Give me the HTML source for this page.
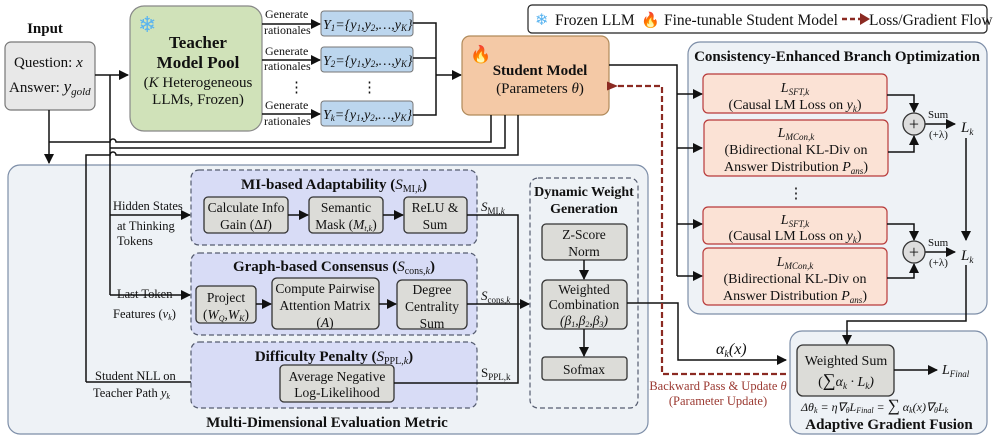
<!DOCTYPE html>
<html><head><meta charset="utf-8"><style>
body{margin:0;background:#fff}
svg{display:block}
text{font-family:"Liberation Serif",serif;fill:#111}
.b{font-weight:bold}
.i{font-style:italic}
text.red,.red tspan{fill:#9b3a32}
text.snow{fill:#5ab4f0}
text.fire{fill:#f06020}
</style></head><body>
<svg width="996" height="439" viewBox="0 0 996 439" xmlns="http://www.w3.org/2000/svg">
<defs>
<marker id="a" markerWidth="10" markerHeight="10" refX="9" refY="5" orient="auto" markerUnits="userSpaceOnUse"><path d="M0,0 L10,5 L0,10 z" fill="#111"/></marker>
<marker id="r" markerWidth="11" markerHeight="9" refX="2" refY="4.5" orient="auto" markerUnits="userSpaceOnUse"><path d="M0,4.5 L11,0 L11,9 z" fill="#8b2a22"/></marker>
</defs>

<!-- legend -->
<rect x="528" y="5" width="459" height="28" rx="4" fill="#fff" stroke="#222" stroke-width="1.2"/>
<text x="535" y="25" font-size="16" class="snow">❄</text>
<text x="555" y="25" font-size="15.5">Frozen LLM</text>
<text x="641" y="25" font-size="15" class="fire">🔥</text>
<text x="664" y="25" font-size="15.5">Fine-tunable Student Model</text>
<line x1="842" y1="19" x2="862" y2="19" stroke="#8b2a22" stroke-width="2.5" stroke-dasharray="5,3"/>
<path d="M860,13 L870,19 L860,25z" fill="#8b2a22"/>
<text x="869" y="25" font-size="15.5">Loss/Gradient Flow</text>

<!-- big panels -->
<rect x="8" y="165" width="640" height="269" rx="12" fill="#eef2f6" stroke="#7d8ea8" stroke-width="1.2"/>
<rect x="688" y="42" width="299" height="272" rx="12" fill="#eef2f6" stroke="#7d8ea8" stroke-width="1.2"/>
<rect x="790" y="331" width="197" height="103" rx="12" fill="#eef2f6" stroke="#7d8ea8" stroke-width="1.2"/>

<!-- input -->
<text x="45" y="33" font-size="15" class="b" text-anchor="middle">Input</text>
<rect x="5" y="42" width="90" height="68" rx="6" fill="#e8e8e8" stroke="#777" stroke-width="1.2"/>
<text x="14" y="67" font-size="15">Question: <tspan class="i">x</tspan></text>
<text x="9" y="92" font-size="15">Answer: <tspan class="i" font-size="17">y</tspan><tspan class="i" font-size="11" dy="3">gold</tspan></text>

<!-- teacher -->
<rect x="130" y="6" width="132" height="125" rx="14" fill="#d0e2b9" stroke="#888" stroke-width="1.2"/>
<text x="138" y="32" font-size="22" class="snow">❄</text>
<text x="198" y="48" font-size="17" class="b" text-anchor="middle">Teacher</text>
<text x="198" y="68" font-size="17" class="b" text-anchor="middle">Model Pool</text>
<text x="198" y="87" font-size="15" text-anchor="middle">(<tspan class="i">K</tspan> Heterogeneous</text>
<text x="198" y="104" font-size="15" text-anchor="middle">LLMs, Frozen)</text>
<line x1="95" y1="75" x2="128" y2="75" stroke="#111" stroke-width="1.5" marker-end="url(#a)"/>

<!-- generate arrows -->
<g font-size="12">
<text x="265" y="18">Generate</text><text x="264" y="34">rationales</text>
<text x="265" y="55">Generate</text><text x="264" y="70">rationales</text>
<text x="265" y="109">Generate</text><text x="264" y="125">rationales</text>
</g>
<line x1="262" y1="24" x2="320" y2="24" stroke="#111" stroke-width="1.5" marker-end="url(#a)"/>
<line x1="262" y1="60" x2="320" y2="60" stroke="#111" stroke-width="1.5" marker-end="url(#a)"/>
<line x1="262" y1="114" x2="320" y2="114" stroke="#111" stroke-width="1.5" marker-end="url(#a)"/>
<text x="289" y="92" font-size="15">⋮</text>
<g fill="#bcd6ee" stroke="#777" stroke-width="1">
<rect x="321" y="11" width="92" height="25" rx="3"/>
<rect x="321" y="47" width="92" height="25" rx="3"/>
<rect x="321" y="101" width="92" height="25" rx="3"/>
</g>
<g font-size="14" class="i">
<text x="323" y="29">Y<tspan font-size="9" dy="2">1</tspan><tspan dy="-2">={y</tspan><tspan font-size="9" dy="2">1</tspan><tspan dy="-2">,y</tspan><tspan font-size="9" dy="2">2</tspan><tspan dy="-2">,…,y</tspan><tspan font-size="9" dy="2">K</tspan><tspan dy="-2">}</tspan></text>
<text x="323" y="65">Y<tspan font-size="9" dy="2">2</tspan><tspan dy="-2">={y</tspan><tspan font-size="9" dy="2">1</tspan><tspan dy="-2">,y</tspan><tspan font-size="9" dy="2">2</tspan><tspan dy="-2">,…,y</tspan><tspan font-size="9" dy="2">K</tspan><tspan dy="-2">}</tspan></text>
<text x="323" y="119">Y<tspan font-size="9" dy="2">k</tspan><tspan dy="-2">={y</tspan><tspan font-size="9" dy="2">1</tspan><tspan dy="-2">,y</tspan><tspan font-size="9" dy="2">2</tspan><tspan dy="-2">,…,y</tspan><tspan font-size="9" dy="2">K</tspan><tspan dy="-2">}</tspan></text>
</g>
<text x="362" y="92" font-size="15">⋮</text>
<path d="M413,23 H436 V115 H413 M413,58 H436" fill="none" stroke="#111" stroke-width="1.5"/>
<line x1="436" y1="75" x2="461" y2="75" stroke="#111" stroke-width="1.5" marker-end="url(#a)"/>

<!-- student -->
<rect x="462" y="36" width="147" height="79" rx="8" fill="#f4c9a6" stroke="#b08a5a" stroke-width="1.2"/>
<text x="470" y="60" font-size="17" class="fire">🔥</text>
<text x="540" y="75" font-size="15" class="b" text-anchor="middle">Student Model</text>
<text x="540" y="93" font-size="15" text-anchor="middle">(Parameters <tspan class="i">θ</tspan>)</text>

<!-- lines from student to bottom -->
<g fill="none" stroke="#111" stroke-width="1.5">
<path d="M491,115 V142 H116 a3,3 0 0 0 -6,0 H49"/>
<path d="M505,115 V148 H110"/>
<path d="M518,115 V155 H116 a3,3 0 0 0 -6,0 H86 V382"/>
<path d="M110,75 V295"/>
<line x1="49" y1="110" x2="49" y2="163" marker-end="url(#a)"/>
<line x1="110" y1="215" x2="190" y2="215" marker-end="url(#a)"/>
<line x1="110" y1="295" x2="190" y2="295" marker-end="url(#a)"/>
<path d="M86,382 H279" marker-end="url(#a)"/>
</g>

<!-- left labels -->
<g font-size="12.5">
<text x="113" y="210">Hidden States</text>
<text x="117" y="230">at Thinking</text>
<text x="117" y="245">Tokens</text>
<text x="117" y="298">Last Token</text>
<text x="113" y="318">Features (<tspan class="i">v</tspan><tspan font-size="8" dy="2" class="i">k</tspan><tspan dy="-2">)</tspan></text>
<text x="95" y="380">Student NLL on</text>
<text x="93" y="397">Teacher Path <tspan class="i">y</tspan><tspan font-size="8" dy="2" class="i">k</tspan></text>
</g>

<!-- dashed groups -->
<g fill="#d8dcf6" stroke="#555c70" stroke-width="1.2" stroke-dasharray="5,3">
<rect x="191" y="170" width="286" height="75" rx="8"/>
<rect x="191" y="253" width="286" height="82" rx="8"/>
<rect x="191" y="342" width="286" height="66" rx="8"/>
<rect x="530" y="178" width="108" height="230" rx="8" fill="#eef2f6"/>
</g>
<text x="334" y="189" font-size="15" class="b" text-anchor="middle">MI-based Adaptability (<tspan class="i" font-weight="normal">S</tspan><tspan font-size="10" dy="3" font-weight="normal">MI,<tspan class="i">k</tspan></tspan><tspan dy="-3">)</tspan></text>
<text x="334" y="271" font-size="15" class="b" text-anchor="middle">Graph-based Consensus (<tspan class="i" font-weight="normal">S</tspan><tspan font-size="10" dy="3" font-weight="normal">cons,<tspan class="i">k</tspan></tspan><tspan dy="-3">)</tspan></text>
<text x="334" y="361" font-size="15" class="b" text-anchor="middle">Difficulty Penalty (<tspan class="i" font-weight="normal">S</tspan><tspan font-size="10" dy="3" font-weight="normal">PPL,<tspan class="i">k</tspan></tspan><tspan dy="-3">)</tspan></text>
<text x="584" y="196" font-size="14" class="b" text-anchor="middle">Dynamic Weight</text>
<text x="584" y="213" font-size="14" class="b" text-anchor="middle">Generation</text>

<!-- gray boxes -->
<g fill="#dcdcd8" stroke="#333" stroke-width="1.3">
<rect x="204" y="197" width="84" height="36" rx="4"/>
<rect x="309" y="197" width="74" height="36" rx="4"/>
<rect x="404" y="197" width="63" height="36" rx="4"/>
<rect x="196" y="286" width="60" height="37" rx="4"/>
<rect x="272" y="278" width="107" height="51" rx="5"/>
<rect x="397" y="280" width="70" height="49" rx="5"/>
<rect x="280" y="365" width="114" height="37" rx="4"/>
<rect x="542" y="224" width="85" height="36" rx="4"/>
<rect x="542" y="280" width="85" height="49" rx="5"/>
<rect x="542" y="357" width="85" height="23" rx="3"/>
<rect x="797" y="345" width="97" height="51" rx="6"/>
</g>
<g font-size="13.5" text-anchor="middle">
<text x="246" y="212">Calculate Info</text><text x="246" y="229">Gain (Δ<tspan class="i">I</tspan>)</text>
<text x="346" y="212">Semantic</text><text x="346" y="229">Mask (<tspan class="i">M</tspan><tspan font-size="8" dy="2" class="i">t,k</tspan><tspan dy="-2">)</tspan></text>
<text x="435" y="212">ReLU &amp;</text><text x="435" y="229">Sum</text>
<text x="226" y="302">Project</text><text x="226" y="319">(<tspan class="i">W</tspan><tspan font-size="8" dy="2" class="i">Q</tspan><tspan dy="-2">,</tspan><tspan class="i">W</tspan><tspan font-size="8" dy="2" class="i">K</tspan><tspan dy="-2">)</tspan></text>
<text x="325" y="293">Compute Pairwise</text><text x="325" y="310">Attention Matrix</text><text x="325" y="327">(<tspan class="i">A</tspan>)</text>
<text x="432" y="294">Degree</text><text x="432" y="311">Centrality</text><text x="432" y="328">Sum</text>
<text x="337" y="381">Average Negative</text><text x="337" y="397">Log-Likelihood</text>
<text x="584" y="239">Z-Score</text><text x="584" y="256">Norm</text>
<text x="584" y="294">Weighted</text><text x="584" y="309">Combination</text><text x="584" y="325" class="i">(β<tspan font-size="8" dy="2">1</tspan><tspan dy="-2">,β</tspan><tspan font-size="8" dy="2">2</tspan><tspan dy="-2">,β</tspan><tspan font-size="8" dy="2">3</tspan><tspan dy="-2">)</tspan></text>
<text x="584" y="374">Sofmax</text>
</g>
<g fill="none" stroke="#111" stroke-width="1.5">
<line x1="288" y1="215" x2="308" y2="215" marker-end="url(#a)"/>
<line x1="383" y1="215" x2="403" y2="215" marker-end="url(#a)"/>
<line x1="256" y1="304" x2="271" y2="304" marker-end="url(#a)"/>
<line x1="379" y1="304" x2="396" y2="304" marker-end="url(#a)"/>
<line x1="584" y1="260" x2="584" y2="279" marker-end="url(#a)"/>
<line x1="584" y1="329" x2="584" y2="356" marker-end="url(#a)"/>
<path d="M467,215 H518 V383 H394"/>
<line x1="467" y1="304" x2="529" y2="304" marker-end="url(#a)"/>
<path d="M627,303 H678 V360 H786" marker-end="url(#a)"/>
</g>
<g font-size="13">
<text x="481" y="211" class="i">S<tspan font-size="9" dy="3" font-style="normal">MI,<tspan class="i">k</tspan></tspan></text>
<text x="481" y="300" class="i">S<tspan font-size="9" dy="3" font-style="normal">cons,<tspan class="i">k</tspan></tspan></text>
<text x="481" y="377">S<tspan font-size="9" dy="3">PPL,k</tspan></text>
</g>
<text x="327" y="427" font-size="15" class="b" text-anchor="middle">Multi-Dimensional Evaluation Metric</text>
<text x="716" y="354" font-size="16" class="i">α<tspan font-size="10" dy="3">k</tspan><tspan dy="-3">(x)</tspan></text>

<!-- student to consistency -->
<g fill="none" stroke="#111" stroke-width="1.5">
<path d="M609,65 H677 V276"/>
<line x1="677" y1="94" x2="702" y2="94" marker-end="url(#a)"/>
<line x1="677" y1="148" x2="702" y2="148" marker-end="url(#a)"/>
<line x1="677" y1="224" x2="702" y2="224" marker-end="url(#a)"/>
<line x1="677" y1="276" x2="702" y2="276" marker-end="url(#a)"/>
</g>
<!-- red dashed -->
<path d="M786,374 H662 V86 H616" fill="none" stroke="#8b2a22" stroke-width="2.2" stroke-dasharray="6,3" marker-end="url(#r)"/>
<text x="718" y="390" font-size="12.5" class="red" text-anchor="middle">Backward Pass &amp; Update <tspan class="i">θ</tspan></text>
<text x="718" y="405" font-size="12.5" class="red" text-anchor="middle">(Parameter Update)</text>

<!-- consistency panel -->
<text x="837" y="61" font-size="15" class="b" text-anchor="middle">Consistency-Enhanced Branch Optimization</text>
<g fill="#fbe2d5" stroke="#b83a3a" stroke-width="1.2">
<rect x="703" y="74" width="184" height="39" rx="5"/>
<rect x="704" y="120" width="184" height="56" rx="5"/>
<rect x="703" y="207" width="184" height="37" rx="5"/>
<rect x="703" y="248" width="184" height="57" rx="5"/>
</g>
<g font-size="14" text-anchor="middle">
<text x="795" y="92" class="i">L<tspan font-size="9" dy="3">SFT,k</tspan></text>
<text x="795" y="109">(Causal LM Loss on <tspan class="i">y</tspan><tspan font-size="9" dy="3" class="i">k</tspan><tspan dy="-3">)</tspan></text>
<text x="796" y="137" class="i">L<tspan font-size="9" dy="3">MCon,k</tspan></text>
<text x="796" y="154">(Bidirectional KL-Div on</text>
<text x="796" y="171">Answer Distribution <tspan class="i">P</tspan><tspan font-size="9" dy="3" class="i">ans</tspan><tspan dy="-3">)</tspan></text>
<text x="795" y="224" class="i">L<tspan font-size="9" dy="3">SFT,k</tspan></text>
<text x="795" y="240">(Causal LM Loss on <tspan class="i">y</tspan><tspan font-size="9" dy="3" class="i">k</tspan><tspan dy="-3">)</tspan></text>
<text x="795" y="266" class="i">L<tspan font-size="9" dy="3">MCon,k</tspan></text>
<text x="795" y="283">(Bidirectional KL-Div on</text>
<text x="795" y="300">Answer Distribution <tspan class="i">P</tspan><tspan font-size="9" dy="3" class="i">ans</tspan><tspan dy="-3">)</tspan></text>
</g>
<text x="796" y="198" font-size="15" text-anchor="middle">⋮</text>
<g fill="none" stroke="#111" stroke-width="1.5">
<path d="M887,95 H914 V112" marker-end="url(#a)"/>
<path d="M888,152 H914 V136" marker-end="url(#a)"/>
<line x1="925" y1="124" x2="955" y2="124" marker-end="url(#a)"/>
<path d="M887,224 H914 V240" marker-end="url(#a)"/>
<path d="M887,278 H914 V264" marker-end="url(#a)"/>
<line x1="925" y1="252" x2="955" y2="252" marker-end="url(#a)"/>
<line x1="966" y1="138" x2="966" y2="240" marker-end="url(#a)"/>
<path d="M966,265 V321 H847 V344" marker-end="url(#a)"/>
<line x1="894" y1="370" x2="937" y2="370" marker-end="url(#a)"/>
</g>
<g fill="#ddd" stroke="#333" stroke-width="1.3">
<circle cx="914" cy="124" r="11"/><circle cx="914" cy="252" r="11"/>
</g>
<g font-size="18" text-anchor="middle"><text x="914" y="130">+</text><text x="914" y="258">+</text></g>
<g font-size="11"><text x="928" y="118">Sum</text><text x="929" y="138">(+λ)</text><text x="928" y="246">Sum</text><text x="929" y="266">(+λ)</text></g>
<g font-size="15" class="i"><text x="961" y="132">L<tspan font-size="9" dy="3">k</tspan></text><text x="961" y="260">L<tspan font-size="9" dy="3">k</tspan></text></g>

<!-- adaptive -->
<text x="846" y="365" font-size="14" text-anchor="middle">Weighted Sum</text>
<text x="846" y="386" font-size="14" text-anchor="middle">(<tspan font-size="18">∑</tspan><tspan class="i">α<tspan font-size="9" dy="3">k</tspan><tspan dy="-3"> · L</tspan><tspan font-size="9" dy="3">k</tspan><tspan dy="-3">)</tspan></tspan></text>
<text x="942" y="374" font-size="14" class="i">L<tspan font-size="9" dy="3">Final</tspan></text>
<text x="801" y="411" font-size="12" class="i">Δθ<tspan font-size="8" dy="2">k</tspan><tspan dy="-2"> = η∇</tspan><tspan font-size="8" dy="2">θ</tspan><tspan dy="-2">L</tspan><tspan font-size="8" dy="2">Final</tspan><tspan dy="-2"> = </tspan><tspan font-size="17" font-style="normal">∑</tspan><tspan> α</tspan><tspan font-size="8" dy="2">k</tspan><tspan dy="-2">(x)∇</tspan><tspan font-size="8" dy="2">θ</tspan><tspan dy="-2">L</tspan><tspan font-size="8" dy="2">k</tspan></text>
<text x="889" y="429" font-size="15" class="b" text-anchor="middle">Adaptive Gradient Fusion</text>
</svg>
</body></html>
